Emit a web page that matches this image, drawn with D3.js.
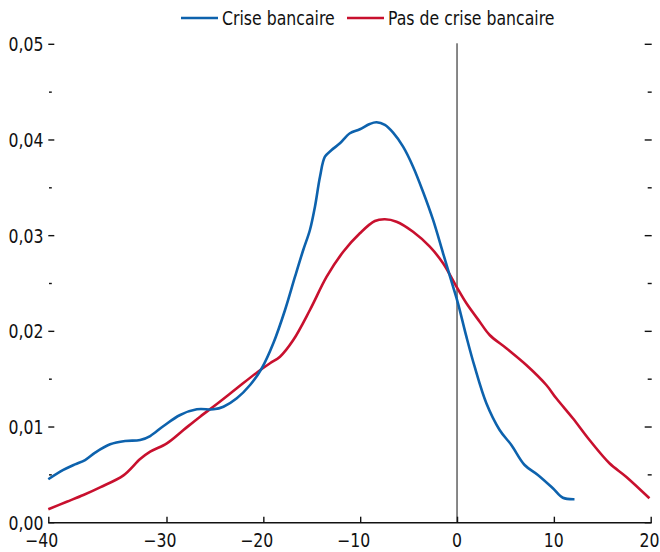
<!DOCTYPE html>
<html><head><meta charset="utf-8">
<script src="https://cdn.jsdelivr.net/npm/d3@7"></script>
<style>
body{margin:0;background:#fff}
svg text{font-family:"Liberation Sans Narrow","Arial Narrow","DejaVu Sans Condensed",sans-serif;fill:#111;}
</style></head><body>
<svg id="c" width="660" height="552"></svg>
<script>
// ---- data ----
const seriesNames = ["Crise bancaire", "Pas de crise bancaire"];
const seriesColors = ["#0d62ad", "#c8102e"];
const xTicks = [-40, -30, -20, -10, 0, 10, 20];
const yMajorTicks = [0, 0.01, 0.02, 0.03, 0.04, 0.05];
const yMinorTicks = [0.005, 0.015, 0.025, 0.035, 0.045];

const crisisX = [-40, -38.73, -37.74, -36.89, -36.04, -34.77, -33.5, -32.23, -31.38, -30.25, -28.59, -26.87, -25.15, -24.12, -22.74, -21.37, -20.16, -18.97, -17.76, -16.73, -15.88, -15.19, -14.67, -14.15, -13.64, -12.95, -12.09, -11.06, -10.03, -9.02, -8.31, -7.45, -6.6, -5.57, -4.54, -3.51, -2.47, -1.44, -0.41, 0.1, 0.97, 1.82, 3.03, 4.4, 5.61, 6.98, 8.35, 9.9, 10.93, 12.13];
const crisisY = [0.00454, 0.00551, 0.0061, 0.00655, 0.00732, 0.00819, 0.00854, 0.00864, 0.00906, 0.01011, 0.01126, 0.01185, 0.01185, 0.01212, 0.013, 0.01439, 0.01614, 0.01875, 0.02223, 0.02571, 0.0285, 0.03059, 0.03303, 0.03616, 0.03825, 0.03895, 0.03965, 0.0407, 0.04112, 0.04167, 0.04185, 0.04157, 0.04076, 0.0393, 0.03721, 0.03459, 0.03164, 0.02816, 0.02467, 0.02293, 0.01944, 0.0163, 0.01248, 0.00969, 0.00812, 0.00603, 0.00499, 0.0036, 0.00261, 0.00245];

const noCrisisX = [-40, -38.44, -37.03, -35.62, -33.64, -32.23, -31.38, -29.96, -28.25, -26.53, -24.8, -22.74, -20.68, -19.31, -18.28, -16.91, -15.19, -13.46, -11.75, -10.03, -8.48, -7.45, -6.25, -4.54, -2.81, -1.44, -0.06, 0.97, 2.34, 3.37, 5.09, 7.15, 9.22, 10.25, 11.96, 13.68, 15.74, 17.46, 19.87];
const noCrisisY = [0.0014, 0.00219, 0.0029, 0.0037, 0.00495, 0.00665, 0.00742, 0.0083, 0.00969, 0.01108, 0.01241, 0.01405, 0.01568, 0.01666, 0.01735, 0.01909, 0.02223, 0.02571, 0.02832, 0.03025, 0.03153, 0.03171, 0.03146, 0.03041, 0.02885, 0.02711, 0.02467, 0.02293, 0.02101, 0.01962, 0.01823, 0.01648, 0.01439, 0.013, 0.01091, 0.00864, 0.00621, 0.00481, 0.00255];

// ---- layout ----
const svg = d3.select("#c");
const L = 48.3, R = 650.7, T = 44.3, B = 522.7;
const fs = 19, sx = 0.92;

const x = d3.scaleLinear().domain([-40, -30, 20]).range([L, 166.5, R]);
const y = d3.scaleLinear().domain([0, 0.05]).range([B, T]);

const fmtX = v => (v < 0 ? "\u2212" : "") + Math.abs(v);
const fmtY = v => d3.format(".2f")(v).replace(".", ",");

function addText(px, py, str, anchor) {
  const g = svg.append("g").attr("transform", `translate(${px},${py}) scale(${sx},1)`);
  return g.append("text").attr("font-size", fs).attr("text-anchor", anchor || "start").text(str);
}

// zero vertical line
svg.append("line").attr("x1", x(0)).attr("x2", x(0)).attr("y1", y(0.05) - 1).attr("y2", B)
  .attr("stroke", "#111").attr("stroke-width", 1);

// y ticks left & right
const gy = svg.append("g").attr("stroke", "#111").attr("stroke-width", 1.4);
yMajorTicks.forEach(v => {
  gy.append("line").attr("x1", L).attr("x2", L + 6).attr("y1", y(v)).attr("y2", y(v));
  gy.append("line").attr("x1", R + 1).attr("x2", R - 6).attr("y1", y(v)).attr("y2", y(v));
});
yMinorTicks.forEach(v => {
  gy.append("line").attr("x1", L + 0.7).attr("x2", L + 3.5).attr("y1", y(v)).attr("y2", y(v));
  gy.append("line").attr("x1", R + 1).attr("x2", R - 3).attr("y1", y(v)).attr("y2", y(v));
});
yMajorTicks.forEach(v => addText(43.5, y(v) + 7, fmtY(v), "end"));

// x axis
const gx = svg.append("g").attr("transform", `translate(0,${B})`)
  .call(d3.axisBottom(x).tickValues(xTicks).tickSize(-6).tickFormat(""));
gx.select(".domain").attr("stroke", "#111").attr("stroke-width", 1.4).attr("d", `M${L},0H${R + 0.7}`);
gx.selectAll(".tick line").attr("stroke", "#111").attr("stroke-width", 1.4);

xTicks.forEach(v => {
  const t = addText(0, 0, String(Math.abs(v)), "end");
  const w = t.node().getComputedTextLength() * sx;
  let px = Math.min(x(v) + w / 2, 659.5);
  t.text(fmtX(v));
  d3.select(t.node().parentNode).attr("transform", `translate(${px},546.5) scale(${sx},1)`);
});

// series lines
const line = d3.line().x(d => x(d[0])).y(d => y(d[1])).curve(d3.curveCatmullRom.alpha(0.5));
const series = [d3.zip(crisisX, crisisY), d3.zip(noCrisisX, noCrisisY)];
svg.append("path").datum(series[1]).attr("d", line).attr("fill", "none")
  .attr("stroke", seriesColors[1]).attr("stroke-width", 2.6);
svg.append("path").datum(series[0]).attr("d", line).attr("fill", "none")
  .attr("stroke", seriesColors[0]).attr("stroke-width", 2.6);

// legend
const leg = [[181, 222], [347, 388]];
seriesNames.forEach((n, i) => {
  svg.append("line").attr("x1", leg[i][0]).attr("x2", leg[i][0] + 37).attr("y1", 18).attr("y2", 18)
    .attr("stroke", seriesColors[i]).attr("stroke-width", 2.6);
  addText(leg[i][1], 25, n, "start");
});
</script>
</body></html>
